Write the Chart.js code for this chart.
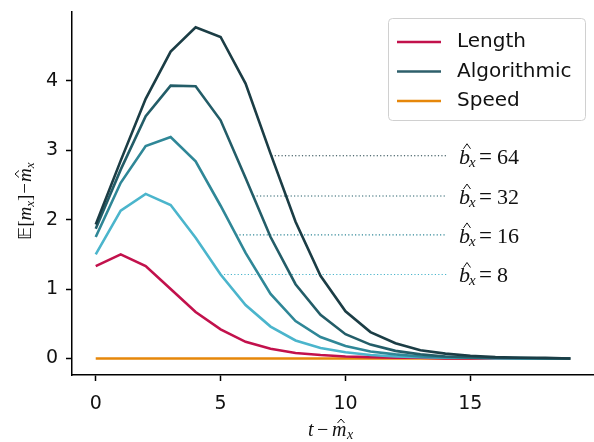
<!DOCTYPE html>
<html>
<head>
<meta charset="utf-8">
<script src="https://cdn.jsdelivr.net/npm/chart.js@4/dist/chart.umd.min.js"></script>
<style>
  html, body { margin: 0; padding: 0; background: #fff; }
  #wrap { width: 594px; height: 442px; }
</style>
</head>
<body>
<div id="wrap"><canvas id="chart"></canvas></div>
<script>
// data
const steps = [0,1,2,3,4,5,6,7,8,9,10,11,12,13,14,15,16,17,18,19];
const lengthVals = [1.33,1.50,1.33,1.00,0.67,0.42,0.24,0.14,0.08,0.05,0.03,0.02,0.01,0.01,0,0,0,0,0,0];
const algo8  = [1.50,2.13,2.37,2.21,1.74,1.21,0.77,0.46,0.26,0.15,0.09,0.05,0.03,0.02,0.01,0.01,0,0,0,0];
const algo16 = [1.75,2.53,3.06,3.19,2.84,2.20,1.52,0.93,0.54,0.31,0.18,0.10,0.06,0.03,0.02,0.01,0.01,0,0,0];
const algo32 = [1.87,2.72,3.49,3.93,3.92,3.43,2.60,1.75,1.07,0.63,0.35,0.20,0.11,0.06,0.03,0.02,0.01,0.01,0,0];
const algo64 = [1.93,2.85,3.74,4.42,4.77,4.63,3.96,2.95,1.97,1.19,0.68,0.38,0.22,0.12,0.07,0.04,0.02,0.01,0.01,0];
const speedVals = [0,0,0,0,0,0,0,0,0,0,0,0,0,0,0,0,0,0,0,0];
const xTicks = [0,5,10,15];
const yTicks = [0,1,2,3,4];
const batchSizes = ['64','32','16','8'];
const batchLevels = [2.92,2.34,1.78,1.21];

const RED = '#c2114c', ORANGE = '#e6870a';
const TEALS = ['#1b3d45','#235d68','#2f8797','#4bb5cc'];
const algoSeries = [algo64, algo32, algo16, algo8];

function pts(vals) { return steps.map((t, i) => ({ x: t, y: vals[i] })); }

// where a falling curve (after its peak) crosses a level
function crossing(vals, level) {
  let peak = vals.indexOf(Math.max(...vals));
  for (let i = peak; i < vals.length - 1; i++) {
    if (vals[i] >= level && vals[i + 1] <= level) {
      return steps[i] + (vals[i] - level) / (vals[i] - vals[i + 1]);
    }
  }
  return steps[peak];
}

const datasets = [];
datasets.push({ data: pts(speedVals), borderColor: ORANGE, order: 10 });
datasets.push({ data: pts(lengthVals), borderColor: RED, order: 9 });
algoSeries.forEach((vals, k) => {
  datasets.push({ data: pts(vals), borderColor: TEALS[k], order: 5 + k });
});
// dotted guide lines
batchLevels.forEach((lv, k) => {
  const x0 = crossing(algoSeries[k], lv);
  datasets.push({
    data: [{ x: x0, y: lv }, { x: 14.05, y: lv }],
    borderColor: TEALS[k], borderWidth: 1.2, borderDash: [1.2, 2.2], order: 20
  });
});
datasets.forEach(d => {
  d.pointRadius = 0;
  d.tension = 0;
  if (!d.borderWidth) d.borderWidth = 2.6;
  d.borderCapStyle = 'butt';
});

function hat(c, cx, top, w, h) {
  c.save();
  c.strokeStyle = '#111';
  c.lineWidth = 1;
  c.beginPath();
  c.moveTo(cx - w / 2, top + h);
  c.lineTo(cx, top);
  c.lineTo(cx + w / 2, top + h);
  c.stroke();
  c.restore();
}

const extras = {
  id: 'extras',
  afterDraw(chart) {
    const c = chart.ctx;
    const ys = chart.scales.y;
    c.save();
    c.fillStyle = '#111';
    c.textBaseline = 'alphabetic';
    // batch labels
    batchLevels.forEach((lv, k) => {
      const x = 459;
      const base = ys.getPixelForValue(lv) + 8;
      c.font = 'italic 22px "Liberation Serif"';
      c.fillText('b', x, base);
      hat(c, x + 8, base - 20, 7, 5);
      c.font = 'italic 15px "Liberation Serif"';
      c.fillText('x', x + 10, base + 3);
      c.font = '23px "Liberation Serif"';
      c.fillText('=', x + 20, base);
      c.font = '22px "Liberation Serif"';
      c.fillText(batchSizes[k], x + 38, base);
    });
    // x axis title
    const cx = 308, cy = 436;
    c.font = 'italic 20px "Liberation Serif"';
    c.fillText('t', cx, cy);
    c.font = '20px "Liberation Serif"';
    c.fillText('\u2212', cx + 9, cy);
    c.font = 'italic 20px "Liberation Serif"';
    c.fillText('m', cx + 24, cy);
    hat(c, cx + 33, cy - 17, 7, 4);
    c.font = 'italic 14px "Liberation Serif"';
    c.fillText('x', cx + 39, cy + 3);
    // y axis title
    c.translate(31, 240);
    c.rotate(-Math.PI / 2);
    let px = 0;
    const part = (txt, font, dy) => { c.font = font; c.fillText(txt, px, dy || 0); px += c.measureText(txt).width; };
    part('\ud835\udd3c', '18px "DejaVu Sans"');
    part('[', '19px "Liberation Serif"');
    part('m', 'italic 19px "Liberation Serif"');
    part('x', 'italic 13px "Liberation Serif"', 3);
    part(']', '19px "Liberation Serif"');
    px += 1;
    part('\u2212', '19px "Liberation Serif"');
    px += 1;
    const mx = px;
    part('m', 'italic 19px "Liberation Serif"');
    hat(c, mx + 8, -16, 7, 4);
    part('x', 'italic 13px "Liberation Serif"', 3);
    c.restore();

    // legend
    c.save();
    const lx = 388, ly = 18, lw = 197, lh = 102;
    c.fillStyle = 'rgba(255,255,255,0.8)';
    c.strokeStyle = '#d0d0d0';
    c.lineWidth = 1;
    c.beginPath();
    c.roundRect(lx + 0.5, ly + 0.5, lw, lh, 4);
    c.fill();
    c.stroke();
    const items = [['Length', RED], ['Algorithmic', '#2e5f6b'], ['Speed', ORANGE]];
    c.font = '20px "DejaVu Sans"';
    c.textBaseline = 'middle';
    items.forEach(([name, col], i) => {
      const y = 42 + i * 29.5;
      c.strokeStyle = col;
      c.lineWidth = 2.6;
      c.beginPath();
      c.moveTo(397, y);
      c.lineTo(441, y);
      c.stroke();
      c.fillStyle = '#111';
      c.fillText(name, 457, y);
    });
    c.restore();
  }
};

new Chart(document.getElementById('chart'), {
  type: 'line',
  data: { datasets },
  options: {
    responsive: true,
    maintainAspectRatio: false,
    animation: false,
    layout: { padding: { top: 12, right: 0, left: 0, bottom: 0 } },
    plugins: { legend: { display: false }, tooltip: { enabled: false } },
    scales: {
      x: {
        type: 'linear',
        min: -0.95, max: 19.95,
        afterBuildTicks: s => { s.ticks = xTicks.map(v => ({ value: v })); },
        afterFit: s => { s.height = 67; s.paddingLeft = 0; s.paddingRight = 0; },
        grid: { drawOnChartArea: false, drawTicks: true, tickLength: 6, tickColor: '#000', tickWidth: 1.5 },
        border: { color: '#000', width: 1.5 },
        ticks: { color: '#111', font: { family: 'DejaVu Sans', size: 19 }, padding: 12, maxRotation: 0, callback: v => String(v) }
      },
      y: {
        min: -0.2375, max: 4.99,
        afterBuildTicks: s => { s.ticks = yTicks.map(v => ({ value: v })); },
        afterFit: s => { s.width = 72; s.paddingTop = 0; s.paddingBottom = 0; },
        grid: { drawOnChartArea: false, drawTicks: true, tickLength: 6, tickColor: '#000', tickWidth: 1.5 },
        border: { color: '#000', width: 1.5 },
        ticks: { color: '#111', font: { family: 'DejaVu Sans', size: 19 }, padding: 8, callback: v => String(v) }
      }
    }
  },
  plugins: [extras]
});
</script>
</body>
</html>
